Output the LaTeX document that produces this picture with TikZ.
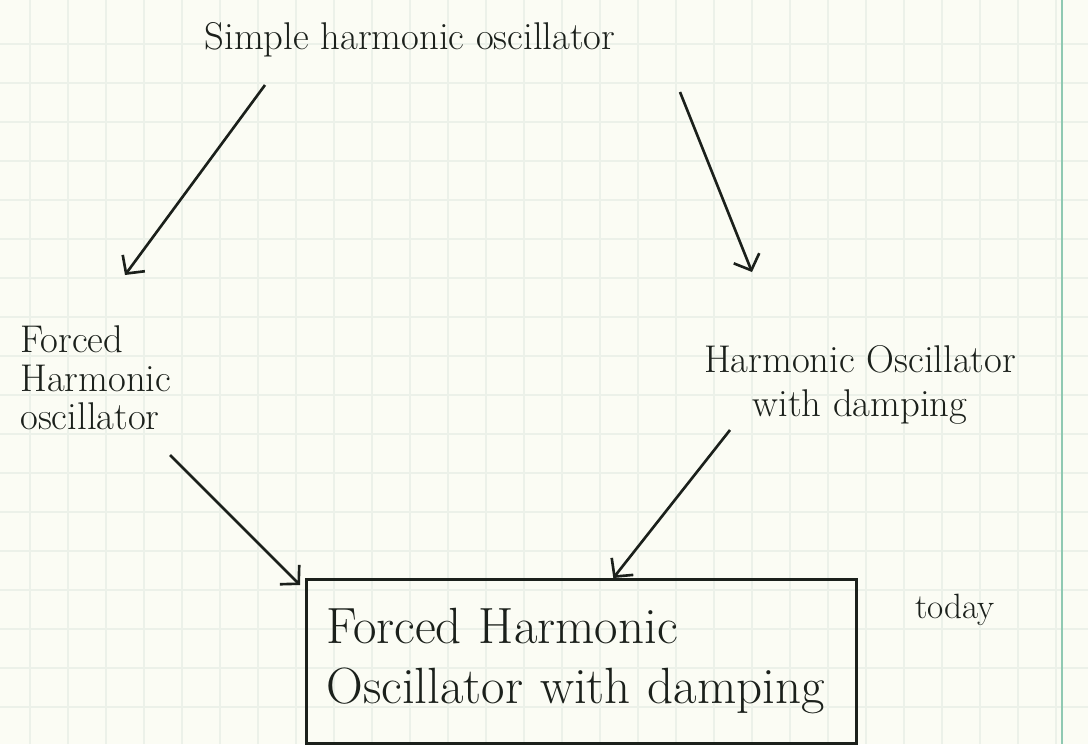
\documentclass[tikz,border=0pt]{standalone}
\usepackage{tikz}
\usetikzlibrary{arrows.meta,positioning,calc}
\definecolor{PaperCream}{HTML}{FBFCF4}
\definecolor{GridGreen}{HTML}{ECF1E9}
\definecolor{MarginGreen}{HTML}{8FC9B2}
\definecolor{PenInk}{HTML}{1B201B}

\begin{document}
\begin{tikzpicture}[
    every node/.style={text=PenInk,inner sep=0pt},
    lbl/.style={font=\fontsize{20}{22}\selectfont,align=left},
    boxed/.style={draw=PenInk,line width=1.5pt,minimum width=11cm,minimum height=3.28cm,text width=10.2cm,align=left,font=\fontsize{29}{34}\selectfont},
    arr/.style={-{Straight Barb[length=2.6mm,width=5.5mm]},PenInk,line width=1.5pt}
  ]
    \fill[PaperCream] (0,0) rectangle (21.76,-14.88);
    \useasboundingbox (0,0) rectangle (21.76,-14.88);
    \foreach \x in {0.6,1.36,...,21.4} \draw[GridGreen,line width=0.6pt] (\x,0) -- (\x,-14.88);
    \foreach \y in {-0.88,-1.66,...,-14.88} \draw[GridGreen,line width=0.6pt] (0,\y) -- (21.76,\y);
    \draw[MarginGreen,line width=1.2pt] (21.24,0) -- (21.24,-14.88);
    \node[lbl,font=\fontsize{22}{24}\selectfont] (sho) at (8.2,-0.8) {Simple harmonic oscillator};
    \node[lbl,anchor=west,font=\fontsize{22}{22}\selectfont] (forced) at (0.4,-7.56) {Forced\\Harmonic\\oscillator};
    \node[lbl,align=center,font=\fontsize{22}{25}\selectfont] (damped) at (17.2,-7.7) {Harmonic Oscillator\\with damping};
    \node[boxed,anchor=north west] (both) at (6.1,-11.56) {Forced Harmonic\\Oscillator with damping};
    \node[lbl] (today) at (19.1,-12.2) {today};
    \draw[arr] ([shift={(-2.9,-0.9)}]sho.center) -- ([shift={(2.1,2.06)}]forced.west);
    \draw[arr] ([shift={(5.4,-1.04)}]sho.center) -- ([shift={(-2.16,2.26)}]damped.center);
    \draw[arr] ([shift={(3.0,-1.54)}]forced.west) -- ([shift={(-0.1,-0.14)}]both.north west);
    \draw[arr] ([shift={(-2.6,-0.9)}]damped.center) -- ([xshift=0.64cm]both.north);
  \end{tikzpicture}
\end{document}
